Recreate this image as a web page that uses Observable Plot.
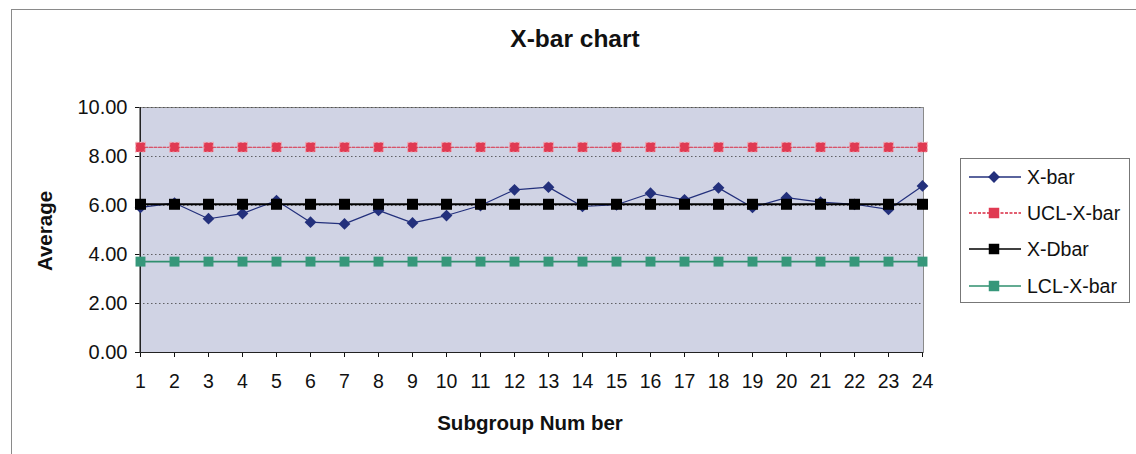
<!DOCTYPE html>
<html>
<head>
<meta charset="utf-8">
<script src="https://cdn.jsdelivr.net/npm/d3@7"></script>
<script src="https://cdn.jsdelivr.net/npm/@observablehq/plot@0.6"></script>
<style>
  html, body { margin: 0; padding: 0; background: #fff; }
  #wrap { position: relative; width: 1136px; height: 454px; overflow: hidden; font-family: "Liberation Sans", Arial, sans-serif; }
  #border { position: absolute; left: 11px; top: 9px; width: 1200px; height: 600px; border-left: 1px solid #8a8a8a; border-top: 1px solid #8a8a8a; }
  .lbl { position: absolute; font-weight: bold; color: #111; white-space: nowrap; }
  #legend { position: absolute; left: 960px; top: 158px; width: 170px; height: 145px; border: 1px solid #777; background: #fff; box-sizing: border-box; }
  .row { position: absolute; left: 6px; height: 24px; display: flex; align-items: center; font-size: 19.5px; color: #111; }
  .row svg { margin-right: 6px; }
</style>
</head>
<body>
<div id="wrap">
  <div id="border"></div>
  <div id="chart" style="position:absolute;left:0;top:0;"></div>
  <div class="lbl" id="title" style="font-size:24.5px;left:575px;top:39px;transform:translate(-50%,-50%);">X-bar chart</div>
  <div class="lbl" id="ylab" style="font-size:20.5px;left:45px;top:231px;transform:translate(-50%,-50%) rotate(-90deg);">Average</div>
  <div class="lbl" id="xlab" style="font-size:20.5px;left:530px;top:423px;transform:translate(-50%,-50%);">Subgroup Num ber</div>
  <div id="legend"></div>
</div>
<script>
// ---- data ----
const subgroups = [1,2,3,4,5,6,7,8,9,10,11,12,13,14,15,16,17,18,19,20,21,22,23,24];
const xbarValues = [5.92,6.10,5.46,5.67,6.20,5.32,5.25,5.80,5.29,5.59,6.00,6.64,6.75,5.96,6.03,6.50,6.23,6.72,5.92,6.32,6.14,6.05,5.84,6.80];
const uclValue = 8.38;
const xdbarValue = 6.05;
const lclValue = 3.71;
const yTicks = [0, 2, 4, 6, 8, 10];
const seriesNames = ["X-bar", "UCL-X-bar", "X-Dbar", "LCL-X-bar"];

// ---- styles ----
const colors = {"X-bar": "#23307c", "UCL-X-bar": "#d92a42", "X-Dbar": "#000000", "LCL-X-bar": "#2f8f6e"};
const markerFill = {"X-bar": "#23307c", "UCL-X-bar": "#e03a52", "X-Dbar": "#000000", "LCL-X-bar": "#36977a"};

const rows = [];
subgroups.forEach((s, i) => {
  rows.push({s, series: "X-bar", v: xbarValues[i]});
  rows.push({s, series: "UCL-X-bar", v: uclValue});
  rows.push({s, series: "X-Dbar", v: xdbarValue});
  rows.push({s, series: "LCL-X-bar", v: lclValue});
});
const bySeries = name => rows.filter(d => d.series === name);

const plot = Plot.plot({
  width: 1136,
  height: 454,
  marginLeft: 139,
  marginRight: 213,
  marginTop: 107,
  marginBottom: 102,
  style: {fontFamily: "'Liberation Sans', Arial, sans-serif", background: "transparent", color: "#111"},
  x: {type: "point", domain: subgroups, padding: 0},
  y: {domain: [0, 10]},
  marks: [
    Plot.frame({fill: "#d0d3e4", stroke: "#8a8a8a", strokeWidth: 1}),
    Plot.gridY(yTicks.filter(t => t !== 0), {stroke: "#444", strokeOpacity: 0.8, strokeDasharray: "1.5,2.5", strokeWidth: 1}),
    Plot.axisY({ticks: yTicks, tickFormat: d => d.toFixed(2), tickSize: 4, tickPadding: 8, fontSize: 20, label: null}),
    Plot.axisX({ticks: subgroups, tickSize: 5, tickPadding: 17, fontSize: 19.5, label: null}),
    Plot.ruleY([0], {stroke: "#222", strokeWidth: 1}),
    Plot.ruleX([subgroups[0]], {stroke: "#222", strokeWidth: 1}),
    // X-bar
    Plot.line(bySeries("X-bar"), {x: "s", y: "v", stroke: colors["X-bar"], strokeWidth: 1.2}),
    Plot.dot(bySeries("X-bar"), {x: "s", y: "v", symbol: "diamond2", r: 5.3, fill: markerFill["X-bar"], stroke: "none"}),
    // UCL
    Plot.line(bySeries("UCL-X-bar"), {x: "s", y: "v", stroke: colors["UCL-X-bar"], strokeWidth: 1.1, strokeDasharray: "3,1.5"}),
    Plot.dot(bySeries("UCL-X-bar"), {x: "s", y: "v", symbol: "square", r: 5.4, fill: markerFill["UCL-X-bar"], stroke: "#f2a6b0", strokeWidth: 1.2, strokeDasharray: "2,2"}),
    // X-Dbar
    Plot.line(bySeries("X-Dbar"), {x: "s", y: "v", stroke: colors["X-Dbar"], strokeWidth: 2}),
    Plot.dot(bySeries("X-Dbar"), {x: "s", y: "v", symbol: "square", r: 6.2, fill: markerFill["X-Dbar"], stroke: "none"}),
    // LCL
    Plot.line(bySeries("LCL-X-bar"), {x: "s", y: "v", stroke: colors["LCL-X-bar"], strokeWidth: 1.6}),
    Plot.dot(bySeries("LCL-X-bar"), {x: "s", y: "v", symbol: "square", r: 5.6, fill: markerFill["LCL-X-bar"], stroke: "none"})
  ]
});
document.getElementById("chart").appendChild(plot);

// ---- legend ----
const legend = document.getElementById("legend");
const rowTops = [6, 42, 78, 115];
seriesNames.forEach((name, i) => {
  const row = document.createElement("div");
  row.className = "row";
  row.style.top = rowTops[i] + "px";
  const svg = d3.create("svg").attr("width", 54).attr("height", 24);
  svg.append("line").attr("x1", 2).attr("x2", 54).attr("y1", 12).attr("y2", 12)
    .attr("stroke", colors[name]).attr("stroke-width", name === "X-Dbar" ? 1.6 : 1.3)
    .attr("stroke-dasharray", name === "UCL-X-bar" ? "3,1.5" : null);
  svg.append("path")
    .attr("d", d3.symbol(d3.symbolSquare, name === "X-bar" ? 70 : 110)())
    .attr("transform", name === "X-bar" ? "translate(27,12) rotate(45)" : "translate(27,12)")
    .attr("fill", markerFill[name]);
  row.appendChild(svg.node());
  const t = document.createElement("span");
  t.textContent = name;
  row.appendChild(t);
  legend.appendChild(row);
});
</script>
</body>
</html>
